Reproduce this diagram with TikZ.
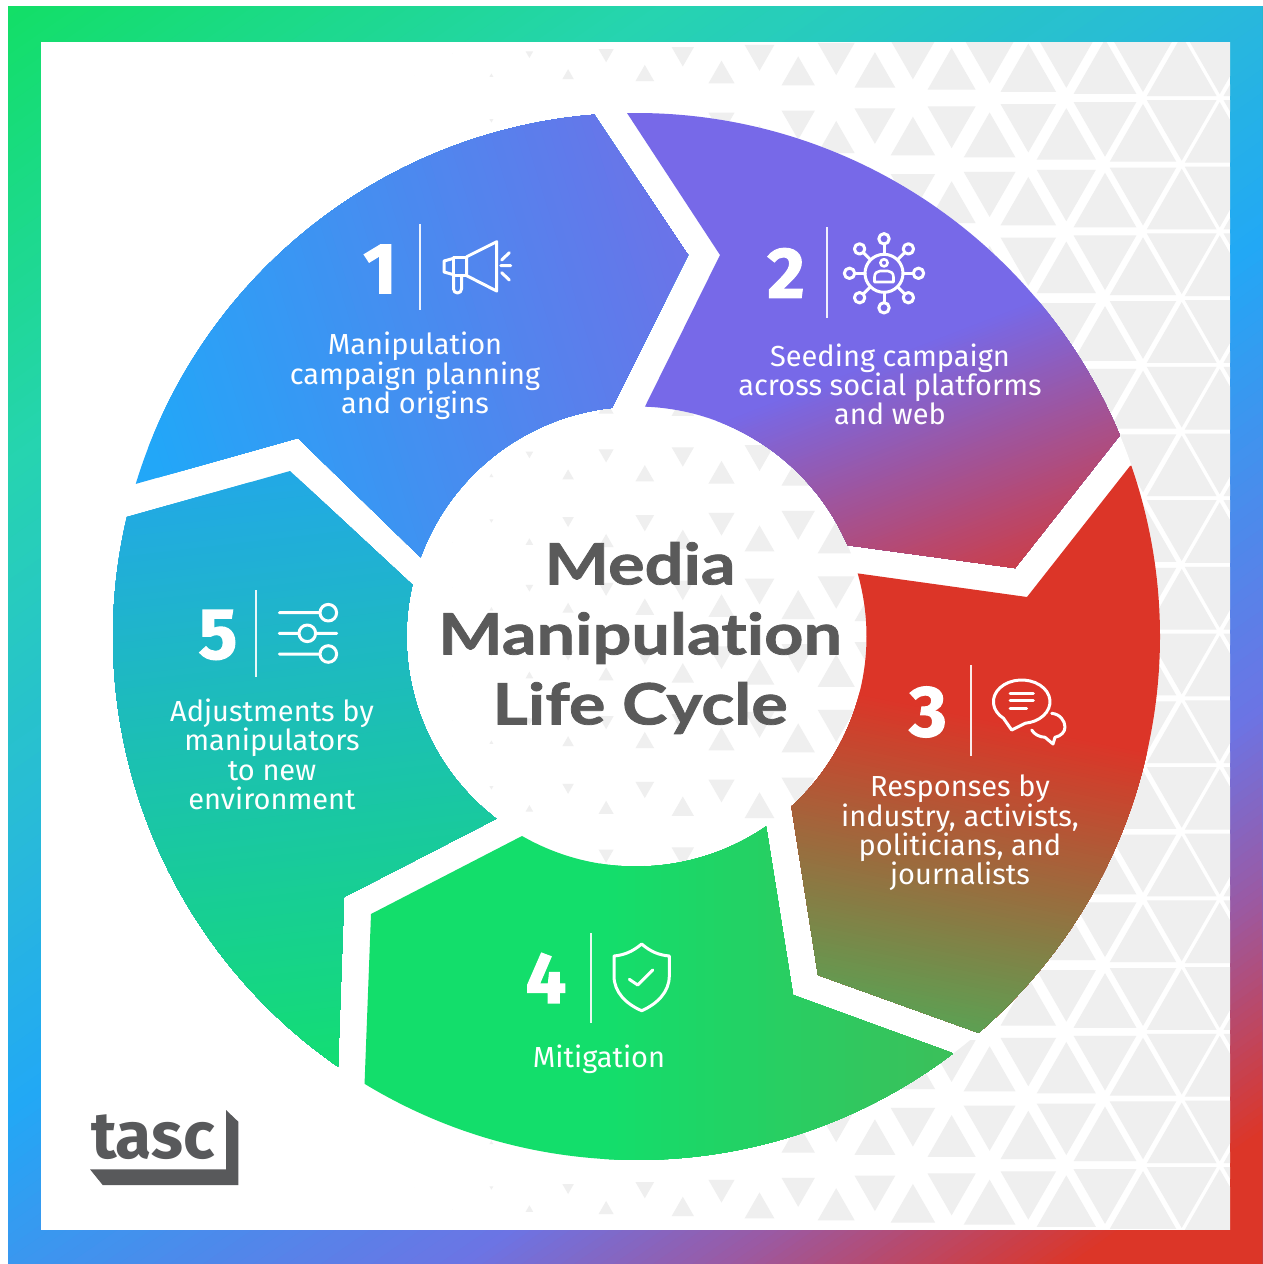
\documentclass[tikz,border=0pt]{standalone}
\usepackage{fontspec}
\newfontfamily\labfont[BoldFeatures={FakeBold=1.6}]{Fira Sans}
\newfontfamily\logofont{Fira Sans}
\newfontfamily\ttlfont[Ligatures=NoCommon,BoldFeatures={FakeStretch=1.2,FakeBold=1.3}]{Lato}
\definecolor{fa}{HTML}{12DF65}\definecolor{fb}{HTML}{26D4B0}\definecolor{fc}{HTML}{28B8DC}
\definecolor{fd}{HTML}{22A8F5}\definecolor{fe}{HTML}{6C74E4}\definecolor{ff}{HTML}{9A5AA4}\definecolor{fg}{HTML}{DC3628}
\definecolor{sa}{HTML}{22A7F8}\definecolor{sb}{HTML}{6C72E8}
\definecolor{sc}{HTML}{7769E8}\definecolor{sd}{HTML}{DD3528}
\definecolor{se}{HTML}{DC3528}\definecolor{sf}{HTML}{58A454}
\definecolor{sg}{HTML}{13DE6B}\definecolor{sh}{HTML}{3CBF5A}
\definecolor{si}{HTML}{22A9E4}\definecolor{sj}{HTML}{13DE72}
\definecolor{trigrey}{HTML}{EFEFEF}
\definecolor{inkgrey}{HTML}{5A5A5A}
\definecolor{logogrey}{HTML}{58595B}
% bands: x1,y1,x2,y2,colour1,colour2,steps
\newcommand\bands[7]{%
  \pgfmathsetmacro\bang{atan2(#4-#2,#3-#1)}%
  \pgfmathsetmacro\blen{veclen(#3-#1,#4-#2)}%
  \pgfmathsetmacro\bstep{\blen/#7}%
  \begin{scope}[shift={(#1,#2)},rotate=\bang]
    \foreach \i in {0,...,#7}{%
      \pgfmathsetmacro\bpct{100*\i/#7}%
      \pgfmathsetmacro\bpos{\bstep*\i}%
      \colorlet{bandc}{#6!\bpct!#5}%
      \fill[bandc] (\bpos,-3000) rectangle (3000,3000);
    }
  \end{scope}}
\newcommand\segfill[2]{\begin{scope}\clip #1; #2\end{scope}}
\tikzset{
  icon/.style={draw=white,line width=3pt,line cap=round,line join=round},
  rule/.style={draw=white,line width=2pt,opacity=.9},
  numtext/.style={text=white,inner sep=0pt,font=\labfont\bfseries\fontsize{72}{72}\selectfont},
  labtext/.style={text=white,inner sep=0pt,align=center,font=\labfont\fontsize{29}{29.3}\selectfont},
  tri/.style={fill=trigrey},
}
\begin{document}
\begin{tikzpicture}[x=1pt,y=1pt,yscale=-1]
\fill[white] (0,0) rectangle (1262,1264);
\useasboundingbox (0,0) rectangle (1262,1264);
% frame
\begin{scope}
  \clip (8,6) rectangle (1262,1264);
  \fill[fa] (0,0) rectangle (1262,1264);
  \bands{0}{0}{216.6}{311.6}{fa}{fb}{38}
  \bands{216.6}{311.6}{410.4}{590.4}{fb}{fc}{30}
  \bands{410.4}{590.4}{521.6}{750.3}{fc}{fd}{20}
  \bands{521.6}{750.3}{741}{1066}{fd}{fe}{40}
  \bands{741}{1066}{826.5}{1189}{fe}{ff}{20}
  \bands{826.5}{1189}{940.5}{1353}{ff}{fg}{30}
\end{scope}
\fill[white] (41,42) rectangle (1230,1230);
% triangle pattern
\begin{scope}
  \clip (41,42) rectangle (1230,1230);
  \foreach \k in {0,...,18}{
    \pgfmathsetmacro\yt{31.3+66.7*\k}
    \pgfmathsetmacro\yb{\yt+66.7}
    \pgfmathsetmacro\xu{ifthenelse(mod(\k,2)==0,1105,1143)}
    \pgfmathsetmacro\xd{ifthenelse(mod(\k,2)==0,1143,1105)}
    \foreach \j in {-9,...,2}{
      \pgfmathsetmacro\xa{\xu+76.7*\j}
      \pgfmathsetmacro\sa{min(0.91,max(0,(\xa-450)*0.00125))}
      \pgfmathsetmacro\cy{\yt+44.47}
      \fill[tri] ({\xa},{\cy-44.47*\sa}) -- ({\xa+38.35*\sa},{\cy+22.23*\sa}) -- ({\xa-38.35*\sa},{\cy+22.23*\sa}) -- cycle;
      \pgfmathsetmacro\xb{\xd+76.7*\j}
      \pgfmathsetmacro\sb{min(0.91,max(0,(\xb-450)*0.00125))}
      \pgfmathsetmacro\cz{\yb-44.47}
      \fill[tri] ({\xb},{\cz+44.47*\sb}) -- ({\xb+38.35*\sb},{\cz-22.23*\sb}) -- ({\xb-38.35*\sb},{\cz-22.23*\sb}) -- cycle;
    }
  }
\end{scope}
% white ring under the segments
\fill[white,even odd rule] (636.5,636.5) circle[radius=523.5] (636.5,636.5) circle[radius=230];
% segment 1
\segfill{(595,116) -- (688,255) -- ([shift={(636.5,636.5)}]-96.12:230) arc[start angle=-96.12,end angle=-159.84,radius=230] -- (298,438) -- ([shift={(636.5,636.5)}]-163.05:523.5) arc[start angle=-163.05,end angle=-94.56,radius=523.5] -- cycle}
{\fill[sa] (0,0) rectangle (1262,1264); \bands{140}{420}{690}{250}{sa}{sb}{70}}
% segment 2
\segfill{(627,113) -- (720,255) -- ([shift={(636.5,636.5)}]-87.9:230) arc[start angle=-87.9,end angle=-23.4,radius=230] -- (1015,568) -- ([shift={(636.5,636.5)}]-22.6:523.5) arc[start angle=-22.6,end angle=-91.04,radius=523.5] -- cycle}
{\fill[sc] (0,0) rectangle (1262,1264); \bands{800}{389}{908}{668}{sc}{sd}{90}}
% segment 3
\segfill{(1130,466) -- (1027,597) -- ([shift={(636.5,636.5)}]-15.93:230) arc[start angle=-15.93,end angle=47.65,radius=230] -- (818,975) -- ([shift={(636.5,636.5)}]49.2:523.5) arc[start angle=49.2,end angle=-19.06,radius=523.5] -- cycle}
{\fill[se] (0,0) rectangle (1262,1264); \bands{1000}{720}{936}{1034}{se}{sf}{90}}
% segment 4
\segfill{(952,1053) -- (793,995) -- ([shift={(636.5,636.5)}]55.7:230) arc[start angle=55.7,end angle=119.85,radius=230] -- (371,914) -- ([shift={(636.5,636.5)}]121.3:523.5) arc[start angle=121.3,end angle=52.85,radius=523.5] -- cycle}
{\fill[sg] (0,0) rectangle (1262,1264); \bands{600}{1000}{950}{1000}{sg}{sh}{40}}
% segment 5
\segfill{(338,1066) -- (344,897) -- ([shift={(636.5,636.5)}]127.6:230) arc[start angle=127.6,end angle=192.98,radius=230] -- (290,471) -- ([shift={(636.5,636.5)}]193.2:523.5) arc[start angle=193.2,end angle=124.8,radius=523.5] -- cycle}
{\fill[si] (0,0) rectangle (1262,1264); \bands{272}{480}{340}{1066}{si}{sj}{90}}
% title
\node[text=inkgrey,inner sep=0pt,align=center,font=\ttlfont\bfseries\fontsize{57}{70}\selectfont] (title) at (640,638) {Media\\Manipulation\\Life Cycle};
% labels
\node[labtext] (labone) at (415,376) {Manipulation\\campaign planning\\and origins};
\node[labtext] (labtwo) at (890,384.5) {Seeding campaign\\across social platforms\\and web};
\node[labtext] (labthree) at (960,833) {Responses by\\industry, activists,\\politicians, and\\journalists};
\node[labtext] (labfour) at (599,1059) {Mitigation};
\node[labtext] (labfive) at (272,754.5) {Adjustments by\\manipulators\\to new\\environment};
% numbers
\node[numtext] (numone) at (380,269) {1};
\node[numtext] (numtwo) at (786,273) {2};
\node[numtext] (numthree) at (928,712) {3};
\node[numtext] (numfour) at (546,978) {4};
\node[numtext] (numfive) at (218,635) {5};
% dividers
\draw[rule] (419.5,224) -- (419.5,310);
\draw[rule] (827,227) -- (827,318);
\draw[rule] (971,665) -- (971,756);
\draw[rule] (590.5,933) -- (590.5,1023);
\draw[rule] (256,590) -- (256,677);
% icon 1: megaphone
\draw[icon] (466.7,256.7) -- (496.7,241.7) -- (496.7,291) -- (466.7,275.7) -- cycle;
\draw[icon] (453,257) rectangle (466.7,275.7);
\draw[icon] (453,258.5) -- (444,261) -- (444,272) -- (453,274.5);
\draw[icon] (453.5,276) -- (453.5,289) arc[start angle=180,end angle=0,radius=4] -- (461.5,276);
\draw[icon] (501.7,260) -- (509.3,252.7) (500.7,265.7) -- (510.7,265.7) (501.7,272.7) -- (509.3,280);
% icon 2: network
\draw[icon] (884,273.3) circle[radius=19];
\foreach \a in {0,45,...,315}{
  \draw[icon] (884,273.3) ++(\a:34.5) circle[radius=5.2];
  \draw[icon] (884,273.3) ++(\a:19) -- ++(\a:10.3);
}
\draw[icon,line width=2.6pt] (884,262.8) circle[radius=3.6];
\draw[icon,line width=2.6pt] (874.5,282) -- (874.5,277) .. controls (874.5,273) and (877.5,271) .. (880,271) -- (888,271) .. controls (890.5,271) and (893.5,273) .. (893.5,277) -- (893.5,282) -- cycle;
% icon 3: speech bubbles
\draw[icon] (1021.7,701.7) ++(130:28.3 and 21.7) arc[start angle=130,end angle=443,x radius=28.3,y radius=21.7] -- (1011.7,730) -- cycle;
\draw[icon] (1010,693.3) -- (1033.3,693.3) (1010,700.7) -- (1033.3,700.7) (1010,708.3) -- (1026.7,708.3);
\draw[icon] (1051.7,713.3) .. controls (1060,714) and (1065,721) .. (1065,727) .. controls (1065,732) and (1061,736) .. (1055,737.3) -- (1053,744) -- (1045,737.3) .. controls (1039,737) and (1034,734) .. (1031.7,730);
% icon 4: shield
\draw[icon] (641.7,944) .. controls (632,952) and (624,955) .. (614,956) -- (614,976) .. controls (614,992) and (626,1004) .. (641.7,1010.7) .. controls (657,1004) and (669.3,992) .. (669.3,976) -- (669.3,956) .. controls (659,955) and (651,952) .. (641.7,944) -- cycle;
\draw[icon] (629.3,979.3) -- (637.7,985) -- (652.7,970);
% icon 5: sliders
\draw[icon] (279.3,612.7) -- (320,612.7) (328.3,612.7) circle[radius=8.3];
\draw[icon] (279.3,633.3) -- (299,633.3) (315.6,633.3) -- (336.7,633.3) (307.3,633.3) circle[radius=8.3];
\draw[icon] (279.3,654) -- (320,654) (328.3,654) circle[radius=8.3];
% logo
\fill[logogrey] (90,1169.3) -- (226,1169.3) -- (226,1110) -- (238.3,1121.7) -- (238.3,1185) -- (102.7,1185) -- cycle;
\node[anchor=base,text=logogrey,inner sep=0pt,font=\logofont\bfseries\fontsize{66}{66}\selectfont] (logo) at (153,1158) {tasc};
\end{tikzpicture}
\end{document}
